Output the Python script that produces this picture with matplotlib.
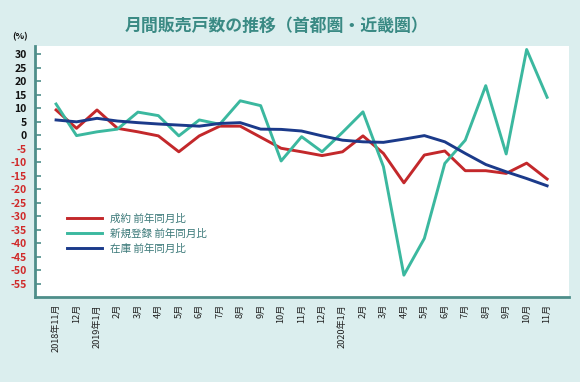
import matplotlib
matplotlib.use("Agg")
import matplotlib.pyplot as plt

plt.rcParams['font.family'] = ['Noto Sans CJK JP', 'DejaVu Sans']

months = ["2018年11月", "12月", "2019年1月", "2月", "3月", "4月", "5月", "6月", "7月", "8月",
          "9月", "10月", "11月", "12月", "2020年1月", "2月", "3月", "4月", "5月", "6月",
          "7月", "8月", "9月", "10月", "11月"]
contracts = [9.3, 2.5, 9.3, 2.5, 1.2, -0.3, -6.2, -0.3, 3.3, 3.3,
             -0.8, -4.9, -6.2, -7.6, -6.2, -0.3, -6.8, -17.7, -7.4, -5.9,
             -13.2, -13.2, -14.2, -10.4, -16.3]
new_listings = [11.5, -0.2, 1.2, 2.2, 8.5, 7.2, -0.3, 5.6, 4.0, 12.7,
                10.9, -9.6, -0.6, -6.2, 1.0, 8.6, -11.7, -51.9, -38.3, -10.5,
                -1.9, 18.3, -7.0, 31.7, 14.0]
inventory = [5.6, 4.9, 6.2, 5.2, 4.6, 4.1, 3.7, 3.3, 4.3, 4.6,
             2.2, 2.1, 1.5, -0.3, -1.9, -2.5, -2.7, -1.5, -0.2, -2.5,
             -6.8, -10.9, -13.6, -16.1, -18.8]
series_labels = ["成約 前年同月比", "新規登録 前年同月比", "在庫 前年同月比"]
yticks = list(range(30, -60, -5))

bg = "#dbeeee"
fig = plt.figure(figsize=(5.8, 3.82), dpi=100, facecolor=bg)
ax = fig.add_axes([35/580, 1-297/382, (569-35)/580, (297-46)/382])
ax.set_facecolor("white")

x = list(range(len(months)))
ax.plot(x, contracts, color="#c3282b", lw=2.1, label=series_labels[0])
ax.plot(x, new_listings, color="#3bb89f", lw=2.1, label=series_labels[1])
ax.plot(x, inventory, color="#1b3a8a", lw=2.1, label=series_labels[2])

ax.set_xlim(-1.03, 25.07)
ax.set_ylim(-60, 33)

for s in ["top", "right"]:
    ax.spines[s].set_visible(False)
for s in ["left", "bottom"]:
    ax.spines[s].set_color("#4e8e8a")
    ax.spines[s].set_linewidth(2)

ax.set_yticks(yticks)
ax.set_yticklabels([str(v) for v in yticks])
ax.tick_params(axis="y", direction="in", length=4, width=1.2, color="#4e8e8a", pad=6,
               labelsize=7.5)
for lbl, v in zip(ax.get_yticklabels(), yticks):
    lbl.set_fontweight("bold")
    lbl.set_color("#111111" if v >= 0 else "#d02a2a")

ax.set_xticks(x)
ax.set_xticklabels(months, rotation=90, fontsize=6.6, color="#222222", va="top")
ax.tick_params(axis="x", length=0, pad=5)

fig.text(20/580, 1-37/382, "(%)", fontsize=6.5, fontweight="bold", ha="center", va="center",
         color="#111111")
fig.text(277/580, 1-26/382, "月間販売戸数の推移（首都圏・近畿圏）", fontsize=12.2,
         fontweight="bold", ha="center", va="center", color="#3a8a84")

leg = ax.legend(loc="upper left", bbox_to_anchor=(0.042, 0.37), frameon=False,
                fontsize=7.6, handlelength=3.3, handletextpad=0.8, labelspacing=0.45)
for t in leg.get_texts():
    t.set_color("#3a7878")

fig.savefig("out.png", dpi=100, facecolor=bg)
